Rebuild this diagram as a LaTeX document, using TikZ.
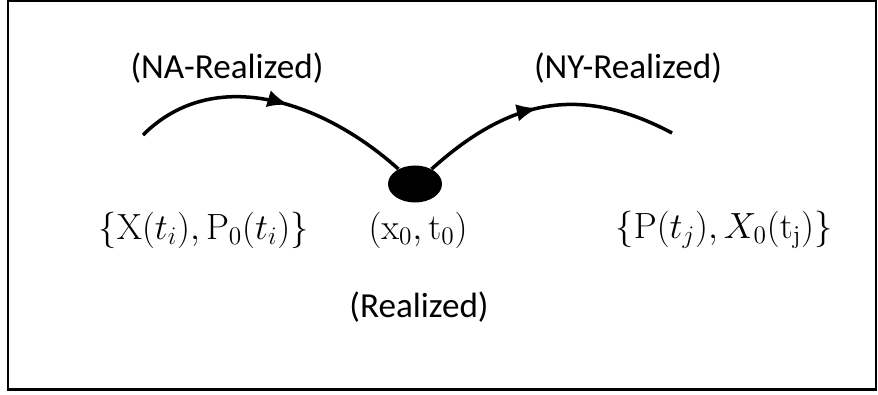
\documentclass[tikz,border=0pt]{standalone}
\usepackage[no-math]{fontspec}
\setmainfont{Carlito}
\usepackage{tikz}
\usetikzlibrary{arrows.meta,shapes.geometric,decorations.markings}

\begin{document}
\begin{tikzpicture}[
    lbl/.style={font=\fontsize{20}{24}\selectfont},
    arc/.style={line width=2pt,postaction={decorate}},
    midarrow/.style={decoration={markings,mark=at position #1 with {\arrow{Latex[length=12pt,width=10pt]}}}}]
      \useasboundingbox (0,0) rectangle (17.56,7.88);
      \draw [line width=1.2pt] (0.16,0.09) rectangle (17.52,7.86);
%%
      \node (NA) [lbl] at (4.54,6.52) {(NA-Realized)};
      \node (NY) [lbl] at (12.56,6.52) {(NY-Realized)};
      \node (R) [lbl] at (8.38,1.74) {(Realized)};
%%
      \node (Xi) [lbl] at (4.07,3.28) {$\{\mathrm{X}(t_i),\mathrm{P}_0(t_i)\}$};
      \node (x0) [lbl] at (8.36,3.28) {$(\mathrm{x}_0,\mathrm{t}_0)$};
      \node (Pj) [lbl] at (14.48,3.28) {$\{\mathrm{P}(t_j),X_0(\mathrm{t_j})\}$};
%%
      \node (dot) [ellipse,fill=black,minimum width=1.08cm,minimum height=0.74cm,inner sep=0pt] at (8.30,4.20) {};
      \coordinate (L) at (2.86,5.18);
      \coordinate (Rt) at (13.44,5.22);
      \draw [arc,midarrow=0.55] (L) to [out=45,in=138] (dot);
      \draw [arc,midarrow=0.47] (dot) to [out=42,in=152,looseness=1.1] (Rt);
    \end{tikzpicture}
\end{document}
